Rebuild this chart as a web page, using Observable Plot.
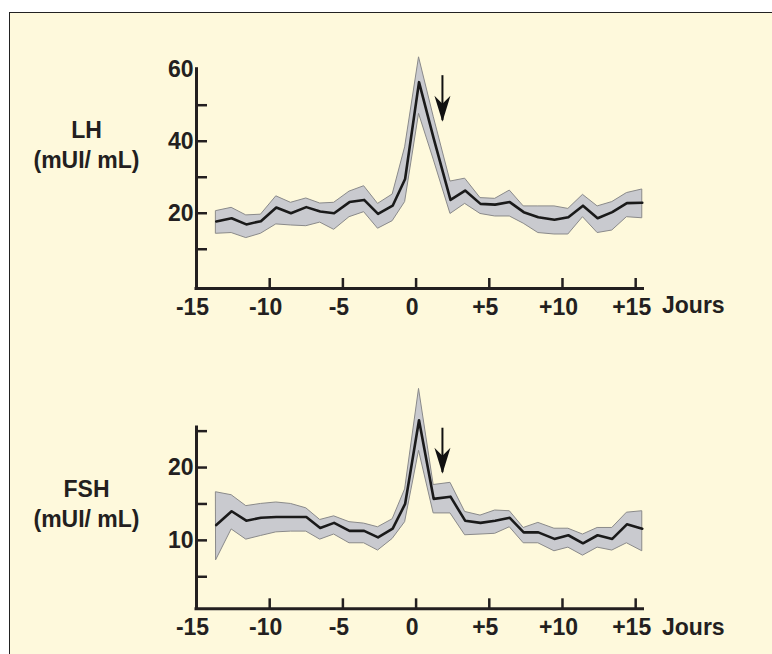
<!DOCTYPE html>
<html><head><meta charset="utf-8">
<script src="https://cdn.jsdelivr.net/npm/d3@7"></script>
<script src="https://cdn.jsdelivr.net/npm/@observablehq/plot@0.6"></script>
<style>
body{margin:0;background:#fff;overflow:hidden;}
#frame{position:absolute;left:9px;top:12px;width:790px;height:680px;background:#fef9dc;border-left:1.5px solid #222;border-top:1.5px solid #222;}
#top,#bottom{position:absolute;left:0;}
#top{top:0px}
#bottom{top:330px}
</style></head><body>
<div id="frame"></div>
<div id="top"></div>
<div id="bottom"></div>
<script>
// Days (relative to LH peak) at which the curves have vertices
const days = [-13.65, -12.6, -11.6, -10.6, -9.55, -8.55, -7.5, -6.55, -5.6, -4.55, -3.55, -2.6, -1.6, -0.75, 0.2, 1.2, 2.35, 3.35, 4.4, 5.4, 6.4, 7.35, 8.35, 9.45, 10.4, 11.4, 12.4, 13.4, 14.4, 15.45];

// LH (mUI/mL): mean and band limits
const lhMean  = [17.7, 18.6, 16.9, 17.8, 21.6, 20.0, 21.7, 20.5, 20.0, 23.1, 23.7, 19.8, 22.1, 29.5, 56.4, 40.8, 23.7, 26.3, 22.6, 22.4, 23.1, 20.3, 18.9, 18.2, 18.9, 22.1, 18.6, 20.3, 22.8, 22.9];
const lhUpper = [20.6, 21.5, 19.4, 19.6, 24.7, 22.9, 24.1, 22.7, 22.9, 26.0, 27.5, 22.6, 25.2, 38.3, 63.3, 46.8, 28.8, 29.6, 24.2, 24.0, 26.3, 21.9, 21.9, 21.9, 21.2, 25.1, 21.9, 23.1, 25.6, 26.6];
const lhLower = [14.3, 14.5, 13.1, 14.3, 16.9, 16.6, 16.4, 17.4, 15.4, 18.9, 20.3, 15.7, 17.8, 23.1, 47.6, 34.9, 19.8, 22.6, 19.8, 19.1, 19.1, 17.1, 14.5, 14.1, 14.1, 18.9, 14.5, 15.2, 18.9, 18.6];

// FSH (mUI/mL): mean and band limits
const fshMean  = [12.1, 14.0, 12.7, 13.1, 13.2, 13.2, 13.2, 11.7, 12.4, 11.3, 11.3, 10.4, 11.6, 15.0, 26.5, 15.7, 16.0, 12.7, 12.4, 12.7, 13.1, 11.1, 11.1, 10.2, 10.7, 9.6, 10.7, 10.2, 12.2, 11.6];
const fshUpper = [16.6, 16.2, 14.7, 15.0, 15.2, 15.0, 14.4, 12.8, 13.3, 12.5, 12.3, 11.8, 12.9, 17.0, 30.8, 17.6, 17.9, 13.9, 13.4, 14.1, 14.0, 11.7, 12.4, 11.6, 11.6, 10.8, 11.7, 11.7, 13.8, 14.0];
const fshLower = [7.3, 11.5, 10.1, 10.6, 11.1, 11.2, 11.2, 10.1, 10.8, 9.6, 9.6, 8.6, 10.2, 12.5, 22.3, 13.7, 13.7, 10.7, 10.8, 10.9, 11.8, 9.6, 9.6, 8.5, 9.0, 7.9, 9.0, 8.6, 9.6, 8.5];

// Axis ticks and labels
const xTickMarks = [-10, -5, 0, 5, 10, 15];
const xLabelValues = [-15, -10, -5, 0, 5, 10, 15];
const xLabelTexts = ["-15", "-10", "-5", "0", "+5", "+10", "+15"];
const xTitle = "Jours";
const lhTickMarks = [10, 20, 30, 40, 50];
const lhLabelValues = [20, 40, 60];
const fshTickMarks = [5, 10, 15, 20, 25];
const fshLabelValues = [10, 20];
const lhTitle = "LH\n(mUI/ mL)";
const fshTitle = "FSH\n(mUI/ mL)";

// Arrows (day, start value, tip value)
const lhArrow = {x: 1.8, y1: 58.2, y2: 45.7};
const fshArrow = {x: 1.8, y1: 25.4, y2: 19.3};

const ink = "#231f20";
const arrowHead = {
  draw(ctx) {
    ctx.moveTo(0, 1);
    ctx.lineTo(-8, -25);
    ctx.lineTo(0, -17);
    ctx.lineTo(8, -25);
    ctx.closePath();
  }
};

function panel({mean, upper, lower, yDomain, tickMarks, labelValues, title, arrow, height, marginTop, marginBottom, titleDy, xTitleDy}) {
  const data = days.map((d, i) => ({day: d, mean: mean[i], upper: upper[i], lower: lower[i]}));
  return Plot.plot({
    width: 772,
    height,
    marginLeft: 196,
    marginRight: 129.5,
    marginTop,
    marginBottom,
    style: {background: "transparent", fontFamily: "'Liberation Sans', Arial, sans-serif", fontSize: "23px", fontWeight: "bold", color: ink},
    x: {domain: [-15, 15.5]},
    y: {domain: yDomain},
    marks: [
      Plot.areaY(data, {x: "day", y1: "lower", y2: "upper", fill: "#c9cacf", stroke: "#8a8a8a", strokeWidth: 1}),
      Plot.lineY(data, {x: "day", y: "mean", stroke: "#1a1a1a", strokeWidth: 2.6}),
      Plot.ruleY([yDomain[0]], {stroke: ink, strokeWidth: 3, strokeLinecap: "square"}),
      Plot.ruleX([-15], {stroke: ink, strokeWidth: 3, strokeLinecap: "square"}),
      Plot.axisX({ticks: xTickMarks, tickSize: -10, tickFormat: () => "", strokeWidth: 2.5, stroke: ink, label: null}),
      Plot.axisX({ticks: xLabelValues, tickSize: 0, tickPadding: 10, tickFormat: (d) => xLabelTexts[xLabelValues.indexOf(d)], dx: -4, fill: ink, label: null}),
      Plot.axisY({ticks: tickMarks, tickSize: -11, tickFormat: () => "", strokeWidth: 2.5, stroke: ink, label: null}),
      Plot.axisY({ticks: labelValues, tickSize: 0, tickPadding: 3, fill: ink, label: null}),
      Plot.text([xTitle], {frameAnchor: "bottom-right", text: d => d, dx: 19, dy: xTitleDy, textAnchor: "start", lineAnchor: "middle", fill: ink}),
      Plot.text([title], {frameAnchor: "top-left", text: d => d, dx: -110, dy: titleDy, textAnchor: "middle", lineAnchor: "middle", lineHeight: 1.3, fill: ink}),
      Plot.ruleX([arrow], {x: "x", y1: "y1", y2: "y2", stroke: "#111", strokeWidth: 2}),
      Plot.dot([arrow], {x: "x", y: "y2", symbol: arrowHead, fill: "#111", stroke: null, r: 5})
    ]
  });
}

document.getElementById("top").append(panel({
  mean: lhMean, upper: lhUpper, lower: lhLower,
  yDomain: [-0.9, 60], tickMarks: lhTickMarks, labelValues: lhLabelValues,
  title: lhTitle, arrow: lhArrow, height: 330, marginTop: 68.7, marginBottom: 42,
  titleDy: 74, xTitleDy: 17
}));
document.getElementById("bottom").append(panel({
  mean: fshMean, upper: fshUpper, lower: fshLower,
  yDomain: [0.6, 25.5], tickMarks: fshTickMarks, labelValues: fshLabelValues,
  title: fshTitle, arrow: fshArrow, height: 324, marginTop: 97, marginBottom: 45.7,
  titleDy: 75, xTitleDy: 19
}));
</script>
</body></html>
